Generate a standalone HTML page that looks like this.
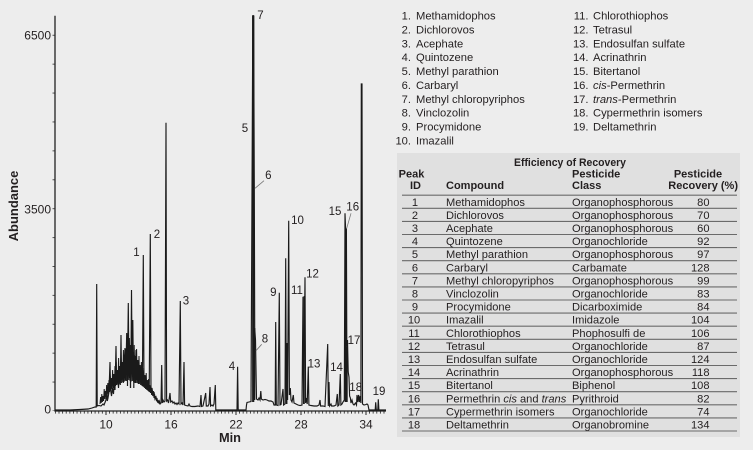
<!DOCTYPE html>
<html><head><meta charset="utf-8"><style>
html,body{margin:0;padding:0;background:#ededed;}
svg{display:block;}
text{font-family:"Liberation Sans",sans-serif;fill:#231f20;}
</style></head><body>
<svg width="753" height="450" viewBox="0 0 753 450" xmlns="http://www.w3.org/2000/svg">
<defs>
<pattern id="xt" patternUnits="userSpaceOnUse" x="105.5" y="0" width="3.611" height="20"><rect x="0" y="0" width="0.9" height="20" fill="#333"/></pattern>
<pattern id="yt" patternUnits="userSpaceOnUse" x="0" y="410.5" width="20" height="28.9"><rect x="0" y="0" width="20" height="0.9" fill="#444"/></pattern>
</defs>
<rect x="0" y="0" width="753" height="450" fill="#ededed"/>

<!-- axes -->
<rect x="55" y="411" width="331" height="2.6" fill="url(#xt)"/>
<rect x="52.5" y="15" width="2.5" height="396" fill="url(#yt)"/>
<line x1="55" y1="15.7" x2="55" y2="411.5" stroke="#222" stroke-width="1.3"/>
<line x1="54.5" y1="411" x2="386" y2="411" stroke="#222" stroke-width="1.2"/>
<g stroke="#222" stroke-width="1">
<line x1="106" y1="411" x2="106" y2="415"/><line x1="171" y1="411" x2="171" y2="415"/><line x1="236" y1="411" x2="236" y2="415"/><line x1="301" y1="411" x2="301" y2="415"/><line x1="366" y1="411" x2="366" y2="415"/>
</g>

<text x="51" y="39.3" font-size="12" text-anchor="end">6500</text>
<text x="51" y="213.6" font-size="12" text-anchor="end">3500</text>
<text x="51" y="413.5" font-size="12" text-anchor="end">0</text>
<g font-size="12" text-anchor="middle">
<text x="106" y="428.5">10</text><text x="171" y="428.5">16</text><text x="236" y="428.5">22</text><text x="301" y="428.5">28</text><text x="366" y="428.5">34</text>
</g>
<text x="230" y="442" font-size="12.8" font-weight="bold" text-anchor="middle">Min</text>
<text transform="translate(18,206) rotate(-90)" font-size="13" font-weight="bold" text-anchor="middle">Abundance</text>

<!-- trace -->
<path fill="none" stroke="#1a1a1a" stroke-width="1.15" stroke-linejoin="miter" d="M55,410 L70,410 L80,409.5 L88,409 L92,408 L95,407 L96.2,407 L96.7,284 L97.2,406 L99,405.5 L101,406 L103,404 L104,405 L106,400 L106.7,385 L107.3,401 L108,398 L109,392 L110,362 L110.6,390 L111.5,396 L112.5,388 L113.5,394 L114.5,380 L115,390 L116,346 L116.6,385 L117.5,375 L118.5,388 L119.5,372 L120.3,385 L121,335 L121.6,380 L122.5,365 L123.3,383 L124.2,362 L125,348 L125.7,380 L126.7,333 L127.4,375 L128.3,303 L129,378 L130,358 L130.8,382 L131.5,290 L132.2,372 L132.8,320 L133.5,380 L134.3,355 L135,383 L136,350 L136.8,380 L137.6,360 L138.4,384 L139.2,366 L140,367 L140.8,385 L141.6,370 L142.4,386 L143.3,255 L144,386 L145,376 L145.8,389 L146.7,382 L147.5,390 L148.4,380 L149.2,392 L150.3,234 L151,393 L152,388 L153,396 L154,392 L155,399 L156,397 L157,401 L158,402.5 L159,403 L160,404 L161,403 L161.7,365 L162.3,403 L163,400 L164,402 L165,401 L166,122.7 L166.6,401 L167.5,400 L168.5,403 L169.3,398 L170,393 L170.7,402 L172,401 L173,403 L174,402 L175,404 L176,403 L177,404.5 L178,403 L179,404 L180.3,301 L181,404 L182,403 L183,405 L184,362 L184.6,405 L186,405.5 L188,406 L189,404 L190,406 L192,406.5 L195,406.5 L198,406 L200,406.5 L201,395 L201.6,406.5 L203,406 L205.7,393 L206.3,406 L208,406 L209,404 L210,387 L210.6,406 L212,405 L213,406 L214,404 L215.3,385 L215.8,410 L237,410 L237.6,366.7 L238.2,410 L246,410 L246.5,405 L247,402.5 L249,402 L251,401.5 L252.3,128 L252.8,15.7 L253.6,15.7 L254.3,188 L254.7,328 L255.5,340 L256.5,399 L258,400 L259,398 L260,400 L260.8,391 L261.4,399 L263,400 L265,399.5 L267,400 L269,401 L271,401 L273,402 L274,405 L275.2,405 L275.7,322 L276.3,405 L278,405.5 L279.3,292.7 L280,405 L281,404.5 L283,389 L283.6,405 L285,404 L285.7,258.3 L286.3,404 L287,343 L287.6,400 L288.7,220.7 L289.4,395 L290.3,388 L291,400 L292,402 L293.3,395 L294,403 L296,404 L298,405 L300,405.5 L302,405 L303,296.7 L303.6,404 L305,277.3 L305.6,403 L306.5,398 L307.2,404 L308.3,366.7 L308.9,405 L311,405.5 L314,406 L317,406 L319,405 L320,400 L320.6,406 L323,406 L325,406.5 L327.7,344 L328.3,406 L329,382 L329.6,406 L331,404 L331.6,406 L334,406 L336,405 L337.3,394 L337.9,406 L339,405 L340.3,374 L340.9,405 L342,404 L343,402 L344.3,400 L345,213.3 L345.6,229 L346.4,229 L346.8,346.7 L347.5,340 L348.2,372 L349,377 L349.6,396 L350.4,398 L351,403 L352,400 L353,404 L354,405 L355.5,403 L356.5,405 L357,395 L357.8,402 L358.6,395 L359.4,402 L360.2,396 L360.9,403 L361.3,84 L362,84 L362.5,404 L364,405 L366,404.5 L367,404 L368,405 L369,410 L375.2,410 L375.7,402.3 L376.3,410 L377.8,410 L378.3,399.3 L378.9,410 L386,410"/>
<!-- dense hump overlay -->
<path fill="none" stroke="#1a1a1a" stroke-width="1" d="M100,404 L100.6,397 L101.2,403 L101.8,394 L102.4,402 L103,396 L103.6,401 L104.2,389 L104.8,399 L105.4,391 L106,397 L106.6,387 L107.2,396 L107.8,383 L108.4,394 L109,380 L109.6,392 L110.2,376 L110.8,391 L111.4,378 L112,389 L112.6,370 L113.2,388 L113.8,374 L114.4,387 L115,366 L115.6,386 L116.2,362 L116.8,385 L117.4,370 L118,384 L118.6,358 L119.2,384 L119.8,366 L120.4,383 L121,355 L121.6,383 L122.2,362 L122.8,382 L123.4,350 L124,382 L124.6,358 L125.2,381 L125.8,349 L126.4,381 L127,340 L127.6,380 L128.2,352 L128.8,380 L129.4,338 L130,381 L130.6,350 L131.2,381 L131.8,336 L132.4,381 L133,352 L133.6,382 L134.2,345 L134.8,382 L135.4,356 L136,383 L136.6,349 L137.2,383 L137.8,360 L138.4,384 L139,356 L139.6,384 L140.2,365 L140.8,385 L141.4,362 L142,386 L142.6,370 L143.2,387 L143.8,368 L144.4,388 L145,375 L145.6,389 L146.2,373 L146.8,390 L147.4,380 L148,391 L148.6,379 L149.2,392 L149.8,385 L150.4,393 L151,386 L151.6,395 L152.2,390 L152.8,396 L153.4,391 L154,398 L154.6,394 L155.2,399 L155.8,396 L156.4,401 L157,398 L157.6,402 L158.2,400 L158.8,403 L159.4,401 L160,403"/>
<!-- thick peak bodies -->
<g stroke="#1a1a1a">
<line x1="253.2" y1="402" x2="253.2" y2="15.7" stroke-width="2.2"/>
<line x1="345.6" y1="402" x2="345.6" y2="229" stroke-width="2"/>
<line x1="346.9" y1="402" x2="346.9" y2="346.7" stroke-width="1.6"/>
<line x1="254.6" y1="400" x2="254.6" y2="328" stroke-width="1.4"/>
<line x1="286.8" y1="404" x2="286.8" y2="343" stroke-width="1.3"/>
<line x1="304.2" y1="404" x2="304.2" y2="296" stroke-width="1.2"/>
<line x1="130.5" y1="388" x2="130.5" y2="345" stroke-width="1.3"/>
<line x1="127.5" y1="386" x2="127.5" y2="350" stroke-width="1.2"/>
<line x1="133.8" y1="388" x2="133.8" y2="352" stroke-width="1.2"/>
</g>
<!-- leaders -->
<g stroke="#777" stroke-width="0.8">
<line x1="255" y1="188.3" x2="264" y2="180.7"/>
<line x1="256" y1="350.7" x2="261.7" y2="344.3"/>
<line x1="346.7" y1="228.3" x2="351" y2="213.3"/>
</g>
<!-- peak labels -->
<g font-size="11.5" text-anchor="middle">
<text x="136.5" y="256">1</text>
<text x="157" y="238">2</text>
<text x="186" y="304.3">3</text>
<text x="232" y="370">4</text>
<text x="245" y="132">5</text>
<text x="268.3" y="179">6</text>
<text x="260.5" y="19">7</text>
<text x="265" y="342.5">8</text>
<text x="273.3" y="296">9</text>
<text x="297.5" y="224">10</text>
<text x="297" y="294">11</text>
<text x="312.5" y="277.5">12</text>
<text x="314" y="367.5">13</text>
<text x="336.5" y="371">14</text>
<text x="335" y="215">15</text>
<text x="352.7" y="210.7">16</text>
<text x="354" y="344">17</text>
<text x="355.7" y="391">18</text>
<text x="379" y="395">19</text>
</g>

<!-- legend -->
<g font-size="11.2">
<g text-anchor="end">
<text x="411" y="19.7">1.</text><text x="411" y="33.5">2.</text><text x="411" y="47.4">3.</text><text x="411" y="61.2">4.</text><text x="411" y="75.1">5.</text><text x="411" y="88.9">6.</text><text x="411" y="102.8">7.</text><text x="411" y="116.6">8.</text><text x="411" y="130.5">9.</text><text x="411" y="144.3">10.</text>
<text x="588.5" y="19.7">11.</text><text x="588.5" y="33.5">12.</text><text x="588.5" y="47.4">13.</text><text x="588.5" y="61.2">14.</text><text x="588.5" y="75.1">15.</text><text x="588.5" y="88.9">16.</text><text x="588.5" y="102.8">17.</text><text x="588.5" y="116.6">18.</text><text x="588.5" y="130.5">19.</text>
</g>
<text x="416" y="19.7">Methamidophos</text>
<text x="416" y="33.5">Dichlorovos</text>
<text x="416" y="47.4">Acephate</text>
<text x="416" y="61.2">Quintozene</text>
<text x="416" y="75.1">Methyl parathion</text>
<text x="416" y="88.9">Carbaryl</text>
<text x="416" y="102.8">Methyl chloropyriphos</text>
<text x="416" y="116.6">Vinclozolin</text>
<text x="416" y="130.5">Procymidone</text>
<text x="416" y="144.3">Imazalil</text>
<text x="593" y="19.7">Chlorothiophos</text>
<text x="593" y="33.5">Tetrasul</text>
<text x="593" y="47.4">Endosulfan sulfate</text>
<text x="593" y="61.2">Acrinathrin</text>
<text x="593" y="75.1">Bitertanol</text>
<text x="593" y="88.9"><tspan font-style="italic">cis</tspan>-Permethrin</text>
<text x="593" y="102.8"><tspan font-style="italic">trans</tspan>-Permethrin</text>
<text x="593" y="116.6">Cypermethrin isomers</text>
<text x="593" y="130.5">Deltamethrin</text>
</g>

<!-- table -->
<rect x="397" y="153" width="343" height="284" fill="#e0e0e0"/>
<text x="570" y="166" font-size="11" font-weight="bold" text-anchor="middle" textLength="112" lengthAdjust="spacingAndGlyphs">Efficiency of Recovery</text>
<g font-size="11" font-weight="bold">
<text x="411.5" y="177.5" text-anchor="middle">Peak</text>
<text x="415.5" y="189" text-anchor="middle">ID</text>
<text x="446" y="189">Compound</text>
<text x="572" y="177.5">Pesticide</text>
<text x="572" y="189">Class</text>
<text x="698" y="177.5" text-anchor="middle">Pesticide</text>
<text x="738" y="189" text-anchor="end">Recovery (%)</text>
</g>
<g stroke="#6a6a6a" stroke-width="1.1">
<line x1="402" y1="195.2" x2="737" y2="195.2"/>
<line x1="402" y1="208.3" x2="737" y2="208.3"/>
<line x1="402" y1="221.4" x2="737" y2="221.4"/>
<line x1="402" y1="234.5" x2="737" y2="234.5"/>
<line x1="402" y1="247.6" x2="737" y2="247.6"/>
<line x1="402" y1="260.7" x2="737" y2="260.7"/>
<line x1="402" y1="273.8" x2="737" y2="273.8"/>
<line x1="402" y1="286.9" x2="737" y2="286.9"/>
<line x1="402" y1="300" x2="737" y2="300"/>
<line x1="402" y1="313.1" x2="737" y2="313.1"/>
<line x1="402" y1="326.2" x2="737" y2="326.2"/>
<line x1="402" y1="339.3" x2="737" y2="339.3"/>
<line x1="402" y1="352.4" x2="737" y2="352.4"/>
<line x1="402" y1="365.5" x2="737" y2="365.5"/>
<line x1="402" y1="378.6" x2="737" y2="378.6"/>
<line x1="402" y1="391.7" x2="737" y2="391.7"/>
<line x1="402" y1="404.8" x2="737" y2="404.8"/>
<line x1="402" y1="417.9" x2="737" y2="417.9"/>
<line x1="402" y1="431" x2="737" y2="431"/>
</g>
<g font-size="11.1">
<g text-anchor="middle">
<text x="415" y="205.8">1</text><text x="415" y="218.9">2</text><text x="415" y="232">3</text><text x="415" y="245.1">4</text><text x="415" y="258.2">5</text><text x="415" y="271.3">6</text><text x="415" y="284.4">7</text><text x="415" y="297.5">8</text><text x="415" y="310.6">9</text><text x="414" y="323.7">10</text><text x="414" y="336.8">11</text><text x="414" y="349.9">12</text><text x="414" y="363">13</text><text x="414" y="376.1">14</text><text x="414" y="389.2">15</text><text x="414" y="402.3">16</text><text x="414" y="415.4">17</text><text x="414" y="428.5">18</text>
</g>
<text x="446" y="205.8">Methamidophos</text>
<text x="446" y="218.9">Dichlorovos</text>
<text x="446" y="232">Acephate</text>
<text x="446" y="245.1">Quintozene</text>
<text x="446" y="258.2">Methyl parathion</text>
<text x="446" y="271.3">Carbaryl</text>
<text x="446" y="284.4">Methyl chloropyriphos</text>
<text x="446" y="297.5">Vinclozolin</text>
<text x="446" y="310.6">Procymidone</text>
<text x="446" y="323.7">Imazalil</text>
<text x="446" y="336.8">Chlorothiophos</text>
<text x="446" y="349.9">Tetrasul</text>
<text x="446" y="363">Endosulfan sulfate</text>
<text x="446" y="376.1">Acrinathrin</text>
<text x="446" y="389.2">Bitertanol</text>
<text x="446" y="402.3">Permethrin <tspan font-style="italic">cis</tspan> and <tspan font-style="italic">trans</tspan></text>
<text x="446" y="415.4">Cypermethrin isomers</text>
<text x="446" y="428.5">Deltamethrin</text>

<text x="572" y="205.8">Organophosphorous</text>
<text x="572" y="218.9">Organophosphorous</text>
<text x="572" y="232">Organophosphorous</text>
<text x="572" y="245.1">Organochloride</text>
<text x="572" y="258.2">Organophosphorous</text>
<text x="572" y="271.3">Carbamate</text>
<text x="572" y="284.4">Organophosphorous</text>
<text x="572" y="297.5">Organochloride</text>
<text x="572" y="310.6">Dicarboximide</text>
<text x="572" y="323.7">Imidazole</text>
<text x="572" y="336.8">Phophosulfi de</text>
<text x="572" y="349.9">Organochloride</text>
<text x="572" y="363">Organochloride</text>
<text x="572" y="376.1">Organophosphorous</text>
<text x="572" y="389.2">Biphenol</text>
<text x="572" y="402.3">Pyrithroid</text>
<text x="572" y="415.4">Organochloride</text>
<text x="572" y="428.5">Organobromine</text>

<g text-anchor="end">
<text x="709.5" y="205.8">80</text><text x="709.5" y="218.9">70</text><text x="709.5" y="232">60</text><text x="709.5" y="245.1">92</text><text x="709.5" y="258.2">97</text><text x="709.5" y="271.3">128</text><text x="709.5" y="284.4">99</text><text x="709.5" y="297.5">83</text><text x="709.5" y="310.6">84</text><text x="709.5" y="323.7">104</text><text x="709.5" y="336.8">106</text><text x="709.5" y="349.9">87</text><text x="709.5" y="363">124</text><text x="709.5" y="376.1">118</text><text x="709.5" y="389.2">108</text><text x="709.5" y="402.3">82</text><text x="709.5" y="415.4">74</text><text x="709.5" y="428.5">134</text>
</g>
</g>
</svg>
</body></html>
